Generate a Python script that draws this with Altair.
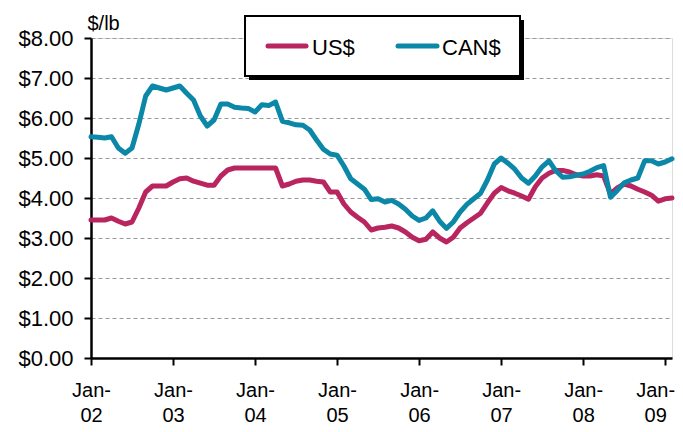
import altair as alt
import pandas as pd

# Month index 0 = Jan-02 ... 85 = Feb-09
MONTHS = list(range(86))
US = [3.45, 3.45, 3.45, 3.50, 3.42, 3.35, 3.40, 3.75, 4.15, 4.30,
      4.30, 4.30, 4.40, 4.48, 4.50, 4.42, 4.37, 4.32, 4.32, 4.55,
      4.70, 4.75, 4.75, 4.75, 4.75, 4.75, 4.75, 4.75, 4.30, 4.35,
      4.42, 4.45, 4.45, 4.42, 4.40, 4.15, 4.15, 3.85, 3.65, 3.52,
      3.40, 3.20, 3.25, 3.27, 3.30, 3.25, 3.15, 3.02, 2.93, 2.97,
      3.15, 3.00, 2.90, 3.02, 3.25, 3.38, 3.50, 3.62, 3.88, 4.12,
      4.26, 4.18, 4.12, 4.05, 3.97, 4.28, 4.50, 4.62, 4.69, 4.69,
      4.65, 4.58, 4.55, 4.55, 4.58, 4.55, 4.10, 4.25, 4.35, 4.30,
      4.22, 4.15, 4.07, 3.92, 3.98, 4.00]
CAN = [5.53, 5.52, 5.50, 5.53, 5.25, 5.12, 5.25, 5.85, 6.55, 6.80,
       6.75, 6.70, 6.75, 6.80, 6.62, 6.45, 6.05, 5.80, 5.95, 6.35,
       6.35, 6.27, 6.25, 6.24, 6.15, 6.33, 6.31, 6.40, 5.92, 5.88,
       5.83, 5.82, 5.70, 5.45, 5.22, 5.10, 5.07, 4.80, 4.48, 4.35,
       4.22, 3.96, 3.98, 3.90, 3.94, 3.85, 3.72, 3.55, 3.44, 3.50,
       3.68, 3.42, 3.24, 3.40, 3.65, 3.84, 3.98, 4.12, 4.45, 4.85,
       5.00, 4.87, 4.72, 4.50, 4.37, 4.55, 4.78, 4.93, 4.68, 4.52,
       4.53, 4.57, 4.60, 4.67, 4.76, 4.81, 4.02, 4.19, 4.38, 4.45,
       4.50, 4.93, 4.93, 4.85, 4.90, 4.98]
SERIES = ["US$", "CAN$"]
COLORS = ["#B9265F", "#0B87A8"]
YEAR_TICKS = [0, 12, 24, 36, 48, 60, 72, 84]
YEAR_LABELS = ["02", "03", "04", "05", "06", "07", "08", "09"]
Y_TICKS = [0, 1, 2, 3, 4, 5, 6, 7, 8]

df = pd.DataFrame({
    "month": MONTHS * 2,
    "price": US + CAN,
    "series": [SERIES[0]] * len(MONTHS) + [SERIES[1]] * len(MONTHS),
})
one = pd.DataFrame({"k": [0]})

FONT = "Liberation Sans"
label_list = "[" + ",".join("'" + s + "'" for s in YEAR_LABELS) + "]"

x_enc = alt.X(
    "month:Q",
    scale=alt.Scale(domain=[0, 85], nice=False, zero=False),
    axis=alt.Axis(
        values=YEAR_TICKS,
        labelExpr="['Jan-', " + label_list + "[datum.value / 12]]",
        title=None,
        grid=False,
        domainColor="black",
        domainWidth=2.5,
        tickColor="black",
        tickWidth=2,
        tickSize=7,
        labelFont=FONT,
        labelFontSize=20,
        labelColor="black",
        labelPadding=15,
        labelLineHeight=25,
        labelFlush=False,
        labelOverlap=False,
        labelOffset={"condition": {"test": "datum.value == %d" % YEAR_TICKS[-1], "value": -10}, "value": 0},
    ),
)
y_enc = alt.Y(
    "price:Q",
    scale=alt.Scale(domain=[0, 8], nice=False),
    axis=alt.Axis(
        values=Y_TICKS,
        format="$.2f",
        title="$/lb",
        titleAngle=0,
        titleX=-4,
        titleY=-9,
        titleAlign="left",
        titleBaseline="alphabetic",
        titleFont=FONT,
        titleFontSize=20,
        titleFontWeight="normal",
        titleColor="black",
        grid=True,
        gridColor="#9a9a9a",
        gridDash=[4, 3],
        gridWidth=1,
        domainColor="black",
        domainWidth=2.5,
        tickColor="black",
        tickWidth=2,
        tickSize=7,
        labelFont=FONT,
        labelFontSize=22,
        labelColor="black",
        labelPadding=11,
    ),
)
color_enc = alt.Color(
    "series:N",
    scale=alt.Scale(domain=SERIES, range=COLORS),
    legend=None,
)

us_line = alt.Chart(df).transform_filter(
    alt.datum.series == SERIES[0]
).mark_line(strokeWidth=5, strokeJoin="round", strokeCap="round").encode(
    x=x_enc, y=y_enc, color=color_enc
)
can_line = alt.Chart(df).transform_filter(
    alt.datum.series == SERIES[1]
).mark_line(strokeWidth=5, strokeJoin="round", strokeCap="round").encode(
    x=x_enc, y=y_enc, color=color_enc
)

# hand-drawn legend box with drop shadow
shadow = alt.Chart(one).mark_rect(color="black").encode(
    x=alt.value(158), x2=alt.value(433), y=alt.value(-18), y2=alt.value(42)
)
box = alt.Chart(one).mark_rect(fill="white", stroke="black", strokeWidth=2).encode(
    x=alt.value(154), x2=alt.value(429), y=alt.value(-22), y2=alt.value(38)
)
leg_us = alt.Chart(one).mark_rule(color=COLORS[0], strokeWidth=5, strokeCap="round").encode(
    x=alt.value(177), x2=alt.value(215), y=alt.value(8)
)
leg_can = alt.Chart(one).mark_rule(color=COLORS[1], strokeWidth=5, strokeCap="round").encode(
    x=alt.value(307), x2=alt.value(346), y=alt.value(8)
)
txt_us = alt.Chart(one).mark_text(
    align="left", baseline="middle", font=FONT, fontSize=22, color="black"
).encode(x=alt.value(221), y=alt.value(10), text=alt.value(SERIES[0]))
txt_can = alt.Chart(one).mark_text(
    align="left", baseline="middle", font=FONT, fontSize=22, color="black"
).encode(x=alt.value(351), y=alt.value(10), text=alt.value(SERIES[1]))

chart = alt.layer(
    us_line, can_line, shadow, box, leg_us, leg_can, txt_us, txt_can
).properties(
    width=581,
    height=320,
    autosize=alt.AutoSizeParams(type="none"),
    padding={"left": 83, "top": 30, "right": 3, "bottom": 66},
).configure_view(
    stroke="black", strokeWidth=1.5
).configure(background="white")

chart.save("out.html", embed_options={"renderer": "svg", "actions": False})
